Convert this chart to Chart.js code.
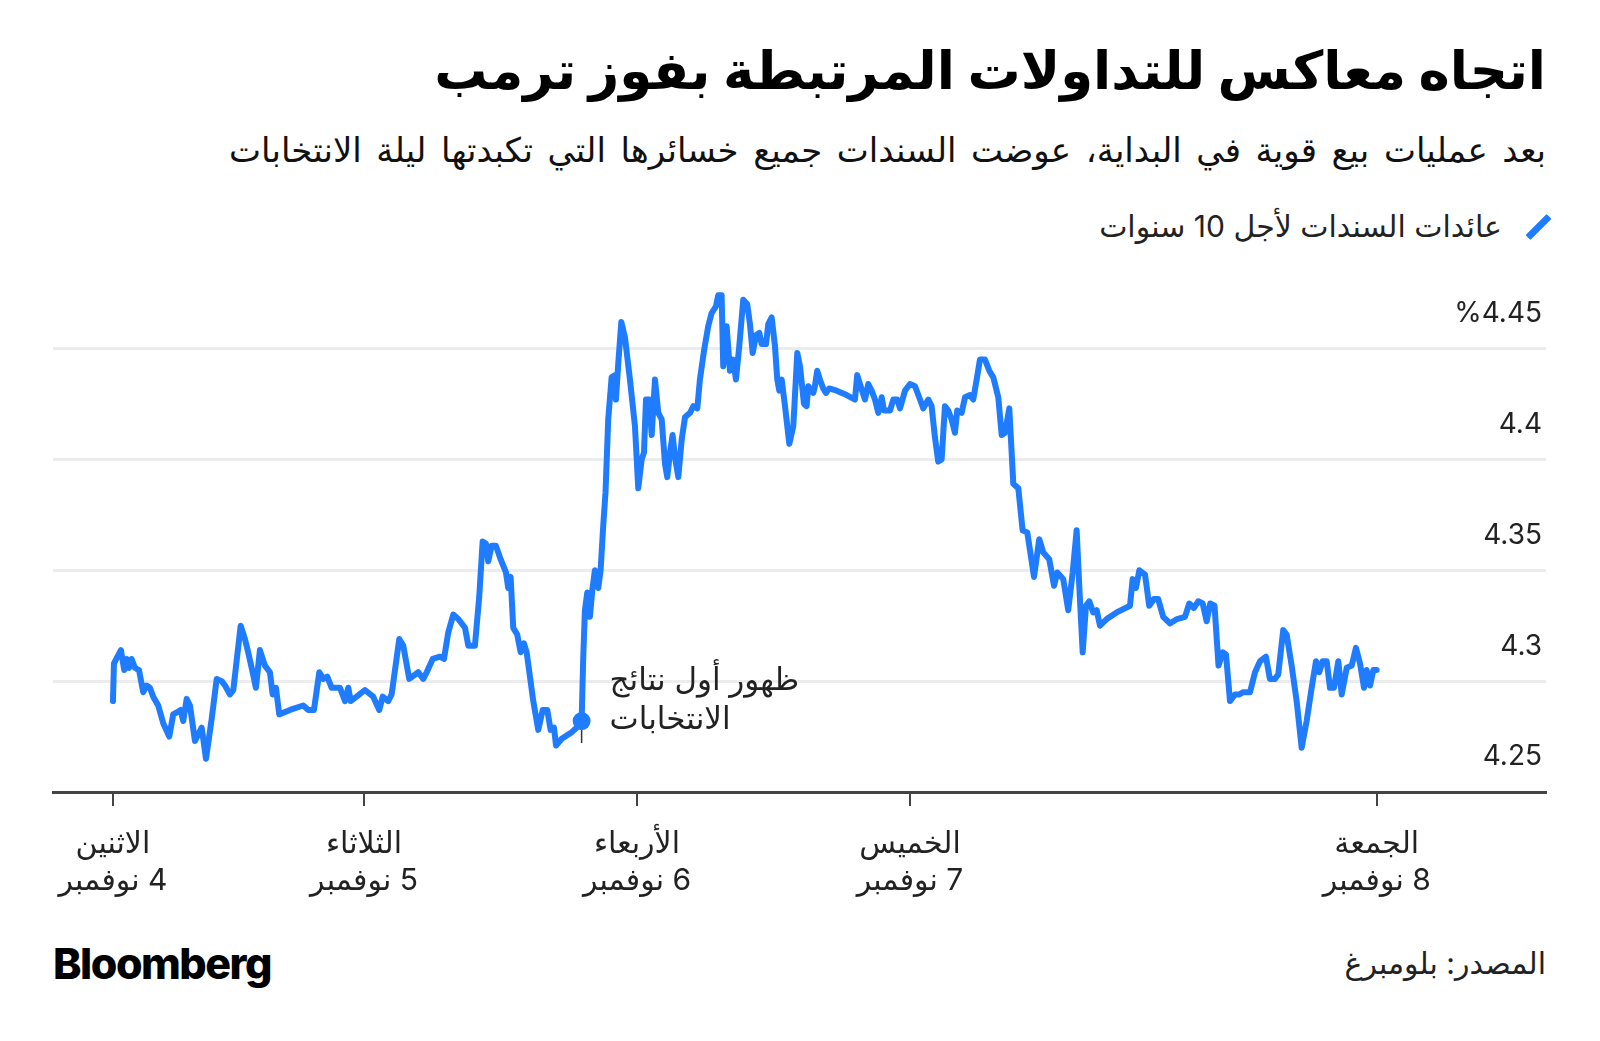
<!DOCTYPE html>
<html lang="ar">
<head>
<meta charset="utf-8">
<script src="https://cdn.jsdelivr.net/npm/chart.js@4.4.1/dist/chart.umd.min.js"></script>
<style>
  html, body { margin: 0; padding: 0; background: #fff; }
  body { width: 1600px; height: 1041px; position: relative; overflow: hidden; font-family: Inter, 'DejaVu Sans', sans-serif; color: #222; }
  .txt { position: absolute; white-space: nowrap; }
  #title { right: 54px; top: 39px; font-size: 53px; line-height: 62px; font-weight: bold; color: #000; }
  #subtitle { right: 54px; top: 130px; font-size: 34px; line-height: 40px; word-spacing: 5px; color: #111; }
  #legend { right: 98px; top: 207px; font-size: 30px; line-height: 38px; color: #222; }
  #legendMark { position: absolute; left: 1535px; top: 212px; width: 7px; height: 30px; background: #1f7cff; transform: rotate(45deg); border-radius: 1px; }
  #source { right: 54px; top: 944px; font-size: 30px; line-height: 38px; color: #222; }
  #logo { left: 53px; top: 937px; font-family: Inter, 'Liberation Sans', sans-serif; font-size: 43px; line-height: 52px; font-weight: 800; letter-spacing: -1.5px; color: #000; }
  #chartBox { position: absolute; left: 0; top: 0; width: 1600px; height: 1041px; }
</style>
</head>
<body>
<div id="title" class="txt" dir="rtl">اتجاه معاكس للتداولات المرتبطة بفوز ترمب</div>
<div id="subtitle" class="txt" dir="rtl">بعد عمليات بيع قوية في البداية، عوضت السندات جميع خسائرها التي تكبدتها ليلة الانتخابات</div>
<div id="legendMark"></div>
<div id="legend" class="txt" dir="rtl">عائدات السندات لأجل 10 سنوات</div>
<div id="source" class="txt" dir="rtl">المصدر: بلومبرغ</div>
<div id="logo" class="txt">Bloomberg</div>
<div id="chartBox"><canvas id="yieldChart" dir="rtl"></canvas></div>

<script>
// hours since Monday's first print (trading time)
const hours = [
  0.00, 0.09, 0.70, 0.99, 1.20, 1.43, 1.64, 1.93, 2.29, 2.66, 2.96, 3.25, 3.54, 3.98, 4.42, 4.95,
  5.30, 5.65, 5.95, 6.18, 6.48, 6.77, 7.21, 7.50, 7.80, 8.18, 8.68, 9.12, 9.56, 9.85, 10.29, 10.58,
  10.87, 11.23, 11.60, 11.89, 12.28, 12.57, 12.92, 13.36, 13.80, 14.04, 14.33, 14.62, 15.56, 16.73,
  17.17, 17.67, 18.14, 18.49, 18.84, 19.23, 19.96, 20.40, 20.69, 20.90, 21.42, 22.15, 22.88, 23.41,
  23.71, 24.20, 24.50, 25.17, 25.52, 26.05, 26.84, 27.28, 27.58, 28.11, 28.75, 29.10, 29.48, 29.92,
  30.36, 30.95, 31.24, 31.82, 32.20, 32.50, 32.79, 32.99, 33.29, 33.67, 34.08, 34.55, 34.75, 34.96,
  35.19, 35.54, 35.84, 36.13, 36.37, 36.95, 37.39, 37.78, 38.18, 38.48, 38.77, 38.95, 39.45, 40.33,
  40.76, 41.20, 41.34, 41.49, 41.70, 41.93, 42.14, 42.37, 42.66, 42.87, 43.10, 43.30, 43.54, 43.84,
  44.13, 44.22, 44.42, 44.69, 45.01, 45.45, 45.89, 46.18, 46.48, 46.68, 46.86, 47.15, 47.36, 47.65,
  47.94, 48.24, 48.53, 48.73, 48.97, 49.20, 49.41, 49.70, 50.00, 50.29, 50.73, 51.02, 51.37, 51.60,
  51.96, 52.33, 52.63, 53.01, 53.21, 53.51, 53.65, 53.95, 54.24, 54.53, 54.77, 55.06, 55.41, 55.76,
  56.00, 56.24, 56.53, 56.82, 57.03, 57.41, 57.61, 57.91, 58.20, 58.40, 58.58, 58.79, 59.08, 59.46,
  59.81, 60.16, 60.40, 60.75, 60.98, 61.13, 61.57, 61.71, 61.91, 62.15, 62.44, 62.68, 62.97, 63.62,
  64.50, 65.23, 65.43, 65.73, 66.11, 66.40, 66.70, 66.99, 67.28, 67.58, 67.78, 68.31, 68.60, 68.95,
  69.19, 69.63, 70.07, 70.51, 70.95, 71.24, 71.68, 71.97, 72.26, 72.55, 72.85, 73.14, 73.43, 73.73,
  74.02, 74.22, 74.61, 74.90, 75.34, 75.63, 75.93, 76.22, 76.66, 77.04, 77.39, 77.83, 78.13, 78.42,
  78.80, 79.15, 79.59, 79.97, 80.38, 80.62, 80.97, 81.43, 81.79, 82.31, 82.73, 83.02, 83.54, 83.98,
  84.37, 84.72, 84.95, 85.25, 85.54, 85.83, 86.18, 86.48, 86.77, 87.36, 88.24, 89.41, 89.64, 89.93,
  90.23, 90.73, 91.10, 91.52, 91.89, 92.33, 92.92, 93.54, 94.24, 94.62, 95.03, 95.41, 95.80, 96.15,
  96.46, 96.84, 97.19, 97.56, 97.85, 98.20, 98.64, 99.02, 99.37, 99.96, 100.40, 100.84, 101.36,
  101.71, 102.15, 102.44, 102.88, 103.18, 103.62, 104.06, 104.50, 104.94, 105.38, 105.76, 106.05,
  106.34, 106.70, 106.99, 107.34, 107.72, 108.02, 108.46, 108.90, 109.27, 109.63, 109.98, 110.21,
  110.51, 110.80, 111.09
];

// 10-year Treasury yield, %
const yields = [
  4.291, 4.308, 4.314, 4.305, 4.310, 4.306, 4.310, 4.306, 4.305, 4.295, 4.298, 4.297, 4.293, 4.289, 4.281, 4.275,
  4.285, 4.286, 4.287, 4.282, 4.292, 4.289, 4.273, 4.276, 4.279, 4.265, 4.283, 4.301, 4.300, 4.298, 4.294, 4.296,
  4.309, 4.325, 4.319, 4.313, 4.304, 4.297, 4.314, 4.307, 4.304, 4.294, 4.297, 4.285, 4.287, 4.289,
  4.287, 4.287, 4.304, 4.301, 4.302, 4.297, 4.297, 4.291, 4.297, 4.291, 4.293, 4.296, 4.293, 4.287,
  4.293, 4.291, 4.294, 4.319, 4.316, 4.301, 4.304, 4.301, 4.304, 4.310, 4.311, 4.310, 4.322, 4.330,
  4.328, 4.324, 4.316, 4.316, 4.338, 4.363, 4.362, 4.354, 4.361, 4.361, 4.355, 4.349, 4.342, 4.347,
  4.324, 4.321, 4.313, 4.317, 4.313, 4.291, 4.278, 4.287, 4.287, 4.278, 4.279, 4.271, 4.274, 4.277,
  4.279, 4.282, 4.310, 4.332, 4.340, 4.329, 4.341, 4.350, 4.342, 4.350, 4.370, 4.385, 4.418, 4.437,
  4.438, 4.427, 4.443, 4.462, 4.455, 4.436, 4.415, 4.387, 4.400, 4.403, 4.427, 4.427, 4.411, 4.436,
  4.421, 4.418, 4.398, 4.392, 4.403, 4.411, 4.401, 4.392, 4.409, 4.419, 4.421, 4.424, 4.423, 4.436,
  4.449, 4.460, 4.466, 4.469, 4.474, 4.474, 4.442, 4.460, 4.440, 4.445, 4.436, 4.451, 4.472, 4.470,
  4.461, 4.448, 4.456, 4.457, 4.452, 4.452, 4.461, 4.464, 4.451, 4.436, 4.431, 4.436, 4.424, 4.407,
  4.415, 4.448, 4.442, 4.425, 4.424, 4.433, 4.430, 4.433, 4.440, 4.436, 4.432, 4.430, 4.432, 4.431,
  4.429, 4.427, 4.438, 4.433, 4.427, 4.434, 4.431, 4.427, 4.421, 4.428, 4.422, 4.422, 4.427, 4.427,
  4.423, 4.431, 4.434, 4.433, 4.427, 4.423, 4.427, 4.424, 4.410, 4.399, 4.400, 4.424, 4.422, 4.418,
  4.412, 4.422, 4.421, 4.428, 4.429, 4.427, 4.436, 4.445, 4.445, 4.440, 4.437, 4.428, 4.411, 4.412,
  4.423, 4.389, 4.387, 4.368, 4.367, 4.359, 4.347, 4.364, 4.358, 4.355, 4.343, 4.349, 4.346, 4.332,
  4.349, 4.368, 4.343, 4.313, 4.334, 4.336, 4.331, 4.332, 4.325, 4.328, 4.331, 4.334, 4.346, 4.342,
  4.350, 4.348, 4.334, 4.337, 4.337, 4.329, 4.326, 4.328, 4.329, 4.335, 4.333, 4.336, 4.335, 4.327,
  4.335, 4.334, 4.307, 4.313, 4.312, 4.291, 4.294, 4.294, 4.295, 4.295, 4.304, 4.309, 4.311,
  4.301, 4.301, 4.303, 4.323, 4.321, 4.307, 4.291, 4.270, 4.282, 4.297, 4.309, 4.304,
  4.309, 4.309, 4.297, 4.297, 4.309, 4.294, 4.306, 4.307, 4.315, 4.308, 4.297, 4.305,
  4.298, 4.305, 4.305
];

// day ticks: position in hours and two-line labels
const dayTickHours = [0, 22.07, 46.07, 70.07, 111.1];
const dayNames = ['الاثنين', 'الثلاثاء', 'الأربعاء', 'الخميس', 'الجمعة'];
const dayDates = ['4 نوفمبر', '5 نوفمبر', '6 نوفمبر', '7 نوفمبر', '8 نوفمبر'];

const yTicks = [4.25, 4.30, 4.35, 4.40, 4.45];
const yTickLabels = ['4.25', '4.3', '4.35', '4.4', '%4.45'];

// election-night marker
const noteHour = [41.20];
const noteYield = [4.282];
const noteLines = ['ظهور أول نتائج', 'الانتخابات'];

const blue = '#1f7cff';
const axisFont = "Inter, 'DejaVu Sans', sans-serif";

const electionNote = {
    id: 'electionNote',
    beforeDatasetsDraw(chart) {
        const pt = chart.getDatasetMeta(1).data[0];
        const ctx = chart.ctx;
        ctx.save();
        ctx.strokeStyle = '#333';
        ctx.lineWidth = 1.5;
        ctx.beginPath();
        ctx.moveTo(pt.x, pt.y);
        ctx.lineTo(pt.x, pt.y + 22);
        ctx.stroke();
        ctx.restore();
    },
    afterDatasetsDraw(chart) {
        const pt = chart.getDatasetMeta(1).data[0];
        const ctx = chart.ctx;
        ctx.save();
        ctx.fillStyle = '#222';
        ctx.font = "31px " + axisFont;
        ctx.textAlign = 'left';
        ctx.textBaseline = 'middle';
        noteLines.forEach((line, i) => {
            ctx.fillText(line, pt.x + 28, pt.y - 40 + i * 39);
        });
        ctx.restore();
    }
};

const ctx = document.getElementById('yieldChart').getContext('2d');
new Chart(ctx, {
    type: 'line',
    data: {
        datasets: [{
            label: 'عائدات السندات لأجل 10 سنوات',
            data: hours.map((h, i) => ({ x: h, y: yields[i] })),
            borderColor: blue,
            borderWidth: 6,
            borderJoinStyle: 'round',
            borderCapStyle: 'round',
            pointRadius: 0,
            tension: 0
        }, {
            label: 'note',
            data: noteHour.map((h, i) => ({ x: h, y: noteYield[i] })),
            showLine: false,
            pointRadius: 9,
            pointBackgroundColor: blue,
            pointBorderWidth: 0
        }]
    },
    options: {
        responsive: true,
        maintainAspectRatio: false,
        animation: false,
        layout: { padding: { top: 282, left: 53, right: 54, bottom: 119 } },
        plugins: {
            legend: { display: false },
            tooltip: { enabled: false }
        },
        scales: {
            x: {
                type: 'linear',
                min: -5.27,
                max: 125.98,
                afterBuildTicks: (scale) => {
                    scale.ticks = dayTickHours.map(v => ({ value: v }));
                },
                afterFit: (scale) => { scale.height = 130; },
                border: { display: true, color: '#444', width: 3 },
                grid: {
                    drawOnChartArea: false,
                    drawTicks: true,
                    tickLength: 14,
                    color: '#444',
                    lineWidth: 2
                },
                ticks: {
                    autoSkip: false,
                    maxRotation: 0,
                    padding: 20,
                    color: '#222',
                    font: { family: axisFont, size: 30, lineHeight: 1.23 },
                    callback: (value) => {
                        const i = dayTickHours.indexOf(value);
                        return i >= 0 ? [dayNames[i], dayDates[i]] : '';
                    }
                }
            },
            y: {
                position: 'right',
                min: 4.25,
                max: 4.48,
                afterBuildTicks: (scale) => {
                    scale.ticks = yTicks.map(v => ({ value: v }));
                },
                afterFit: (scale) => { scale.width = 0; },
                border: { display: false },
                grid: {
                    drawTicks: false,
                    lineWidth: 3,
                    color: (c) => (c.tick && c.tick.value === 4.25) ? 'rgba(0,0,0,0)' : '#ececec'
                },
                ticks: {
                    mirror: true,
                    padding: -4,
                    labelOffset: -35,
                    color: '#222',
                    font: { family: axisFont, size: 28 },
                    callback: (value) => {
                        const i = yTicks.indexOf(value);
                        return i >= 0 ? yTickLabels[i] : '';
                    }
                }
            }
        }
    },
    plugins: [electionNote]
});
</script>
</body>
</html>
